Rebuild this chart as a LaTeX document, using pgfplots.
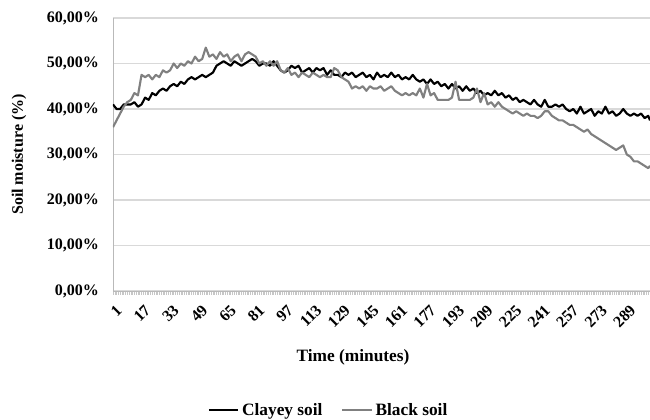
\documentclass[border=0pt]{standalone}
\usepackage{pgfplots}
\usepackage{pgfplotstable}
\pgfplotsset{compat=1.18}
\usepackage{fontspec}
\setmainfont{Liberation Serif}
\definecolor{blacksoil}{HTML}{808080}
\definecolor{gridc}{HTML}{D9D9D9}
\pgfplotstableread{
t v
1 41
3 40
5 40
7 41
9 41
11 41
13 41.5
15 40.5
17 41
19 42.5
21 42
23 43.5
25 43
27 44
29 44.5
31 44
33 45
35 45.5
37 45
39 46
41 45.5
43 46.5
45 47
47 46.5
49 47
51 47.5
53 47
55 47.5
57 48
59 49.5
61 50
63 50.5
65 50
67 49.5
69 50.5
71 50
73 49.5
75 50
77 50.5
79 51
81 50.5
83 49.5
85 50
87 50
89 49.5
91 50.5
93 49.5
95 48.5
97 48
99 48.5
101 49.5
103 49
105 49.5
107 48
109 48.5
111 49
113 48
115 49
117 48.5
119 49
121 47.5
123 48.5
125 47.5
127 47.5
129 47
131 48
133 47.5
135 48
137 47
139 47.5
141 48
143 47
145 47.5
147 46.5
149 48
151 47
153 47.5
155 47
157 48
159 47
161 47.5
163 46.5
165 47
167 46.5
169 47.5
171 46.5
173 46
175 46.5
177 45.5
179 46.5
181 45.5
183 46
185 45
187 45.5
189 44.5
191 45.5
193 44.5
195 45
197 44
199 45
201 44
203 44.5
205 43.5
207 44
209 43
211 43.5
213 43
215 44
217 43
219 43.5
221 42.5
223 43
225 42
227 42.5
229 41.5
231 42
233 41.5
235 41
237 42
239 41
241 40.5
243 42
245 40.5
247 40.5
249 41
251 40.5
253 41
255 40
257 39.5
259 40
261 39
263 40.5
265 39
267 39.5
269 40
271 38.5
273 39.5
275 39
277 40.5
279 39
281 39.5
283 38.5
285 39
287 40
289 39
291 38.5
293 39
295 38.5
297 39
299 38
301 38.5
302 37.5
}\clayey
\pgfplotstableread{
t v
1 36
3 37.5
5 39
7 40.5
9 41.5
11 42
13 43.5
15 43
17 47.5
19 47
21 47.5
23 46.5
25 47.5
27 47
29 48.5
31 48
33 48.5
35 50
37 49
39 50
41 49.5
43 50.5
45 50
47 51.5
49 50.5
51 51
53 53.5
55 51.5
57 52
59 51
61 52.5
63 51.5
65 52
67 50.5
69 51.5
71 52
73 50.5
75 52
77 52.5
79 52
81 51.5
83 50
85 50.5
87 49.5
89 50.5
91 49.5
93 50.5
95 48.5
97 48
99 49
101 47.5
103 48
105 47
107 48
109 47.5
111 47
113 48
115 47.5
117 47
119 47.5
121 47
123 47
125 49
127 48.5
129 47
131 46.5
133 46
135 44.5
137 45
139 44.5
141 45
143 44
145 45
147 44.5
149 44.5
151 45
153 44
155 44.5
157 45
159 44
161 43.5
163 43
165 43.5
167 43
169 43.5
171 43
173 44.5
175 42.5
177 45.5
179 43
181 43.5
183 42
185 42
187 42
189 42
191 42.5
193 46
195 42
197 42
199 42
201 42
203 42.5
205 44.5
207 41.5
209 43.5
211 41
213 41.5
215 40.5
217 41.5
219 40.5
221 40
223 39.5
225 39
227 39.5
229 39
231 38.5
233 39
235 38.5
237 38.5
239 38
241 38.5
243 39.5
245 39.5
247 38.5
249 38
251 37.5
253 37.5
255 37
257 36.5
259 36.5
261 36
263 35.5
265 35
267 35.5
269 34.5
271 34
273 33.5
275 33
277 32.5
279 32
281 31.5
283 31
285 31.5
287 32
289 30
291 29.5
293 28.5
295 28.5
297 28
299 27.5
301 27
302 27.5
}\blacksoil
\begin{document}
\begin{tikzpicture}
\useasboundingbox (0,0) rectangle (487.5pt,315pt);
\begin{axis}[
  at={(84.75pt,96.75pt)}, anchor=south west,
  width=402.75pt, height=204.75pt, scale only axis,
  xmin=1, xmax=302, ymin=0, ymax=60,
  axis x line*=bottom, axis y line*=left,
  axis line style={draw=gray!55, line width=0.6pt},
  ymajorgrids, major grid style={draw=gridc, line width=0.8pt},
  ytick={0,10,20,30,40,50,60},
  yticklabels={{0,00\%},{10,00\%},{20,00\%},{30,00\%},{40,00\%},{50,00\%},{60,00\%}},
  ytick style={draw=none},
  xtick={1,17,...,289},
  minor xtick={1,2,...,302},
  tick align=outside,
  x tick style={draw=gray!45, line width=0.4pt},
  major tick length=3pt, minor tick length=3pt,
  /pgf/number format/assume math mode=true,
  yticklabel style={font=\fontsize{12}{14}\selectfont\bfseries, xshift=-4pt},
  xticklabel style={font=\fontsize{12}{14}\selectfont\bfseries, rotate=45, anchor=east, yshift=-10pt, xshift=0pt},
  ylabel={Soil moisture (\%)},
  ylabel style={font=\fontsize{12}{14}\selectfont\bfseries, at={(axis description cs:-0.175,0.5)}, anchor=center},
  xlabel={Time (minutes)},
  xlabel style={font=\fontsize{13}{15}\selectfont\bfseries, at={(axis description cs:0.447,-0.242)}, anchor=center},
  legend style={at={(0.402,-0.436)}, anchor=center, draw=none, fill=none,
    legend columns=2, font=\fontsize{13}{15}\selectfont\bfseries,
    /tikz/every even column/.append style={column sep=12pt},
    inner sep=0pt},
  legend image code/.code={\draw[#1] (0cm,0cm) -- (0.78cm,0cm);},
  legend cell align=left,
]
\addplot[draw=black, line width=1.6pt, line join=round] table[x=t,y=v] {\clayey};
\addlegendentry{Clayey soil}
\addplot[draw=blacksoil, line width=1.6pt, line join=round] table[x=t,y=v] {\blacksoil};
\addlegendentry{Black soil}
\end{axis}
\end{tikzpicture}
\end{document}
